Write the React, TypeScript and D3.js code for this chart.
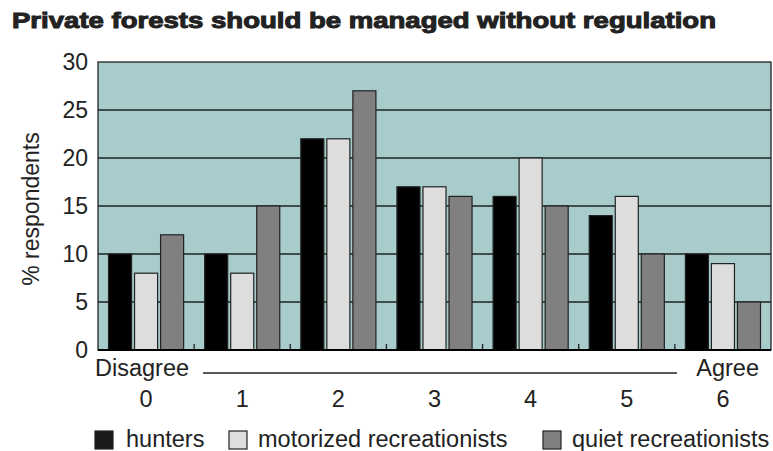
import React from "react";
import * as d3 from "d3";

const categories = ["0", "1", "2", "3", "4", "5", "6"];
const seriesNames = ["hunters", "motorized recreationists", "quiet recreationists"];
const hunters = [10, 10, 22, 17, 16, 14, 10];
const motorized = [8, 8, 22, 17, 20, 16, 9];
const quiet = [12, 15, 27, 16, 15, 10, 5];
const yTicks = [0, 5, 10, 15, 20, 25, 30];
const colors = ["#000000", "#dddddd", "#808080"];
const title = "Private forests should be managed without regulation";

const W = 773, H = 451;
const left = 98, right = 771, top = 62, bottom = 350;
const FONT = "'Liberation Sans', Arial, sans-serif";
const TXT = "#222";

export default function App() {
  const series = [hunters, motorized, quiet];
  const x = d3.scaleBand<string>().domain(categories).range([left, right]).padding(0);
  const xs = d3
    .scaleBand<number>()
    .domain([0, 1, 2])
    .range([0, x.bandwidth()])
    .paddingInner(0.115)
    .paddingOuter(0.404);
  const y = d3.scaleLinear().domain([0, 30]).range([bottom, top]);

  const legendItems = [
    { sx: 95, tx: 126 },
    { sx: 229, tx: 258 },
    { sx: 543, tx: 572 },
  ];

  return (
    <svg
      width={W}
      height={H}
      style={{ position: "absolute", left: 0, top: 0, background: "#fff" }}
      fontFamily={FONT}
    >
      <text
        x={12}
        y={28}
        fontSize={22}
        fontWeight={900}
        fill={TXT}
        stroke={TXT}
        strokeWidth={1}
        textLength={704}
        lengthAdjust="spacingAndGlyphs"
      >
        {title}
      </text>

      <rect x={left} y={top} width={right - left} height={bottom - top} fill="#a8cbcc" />

      {yTicks.slice(1, -1).map((t) => (
        <line key={t} x1={left} x2={right} y1={y(t)} y2={y(t)} stroke="#222" strokeWidth={1.3} />
      ))}

      {categories.slice(1).map((c) => (
        <line
          key={"tk" + c}
          x1={x(c)!}
          x2={x(c)!}
          y1={bottom}
          y2={bottom - 6}
          stroke="#222"
          strokeWidth={1.3}
        />
      ))}

      {categories.map((c, i) =>
        series.map((s, j) => (
          <rect
            key={c + "-" + j}
            x={x(c)! + xs(j)!}
            y={y(s[i])}
            width={xs.bandwidth()}
            height={bottom - y(s[i])}
            fill={colors[j]}
            stroke="#222"
            strokeWidth={1.2}
          />
        ))
      )}

      <rect
        x={left}
        y={top}
        width={right - left}
        height={bottom - top}
        fill="none"
        stroke="#222"
        strokeWidth={1.3}
      />
      <line x1={left} x2={right} y1={bottom} y2={bottom} stroke="#000" strokeWidth={2} />

      {yTicks.map((t) => (
        <text
          key={"yl" + t}
          x={88}
          y={y(t)}
          dy="0.36em"
          textAnchor="end"
          fontSize={23}
          fill={TXT}
        >
          {t}
        </text>
      ))}

      <text
        transform={`translate(39,209) rotate(-90)`}
        textAnchor="middle"
        fontSize={23}
        fill={TXT}
      >
        % respondents
      </text>

      <text x={95} y={376} fontSize={23.5} fill={TXT}>
        Disagree
      </text>
      <line x1={203} x2={677} y1={373} y2={373} stroke="#222" strokeWidth={1.3} />
      <text x={759} y={376} fontSize={23.5} fill={TXT} textAnchor="end">
        Agree
      </text>

      {categories.map((c) => (
        <text
          key={"xl" + c}
          x={x(c)! + x.bandwidth() / 2}
          y={407}
          textAnchor="middle"
          fontSize={23.5}
          fill={TXT}
        >
          {c}
        </text>
      ))}

      {seriesNames.map((n, j) => (
        <g key={n}>
          <rect
            x={legendItems[j].sx}
            y={431}
            width={18}
            height={18}
            fill={j === 0 ? "#1a1a1a" : colors[j]}
            stroke="#222"
            strokeWidth={1.2}
          />
          <text x={legendItems[j].tx} y={447} fontSize={23.5} fill={TXT}>
            {n}
          </text>
        </g>
      ))}
    </svg>
  );
}
